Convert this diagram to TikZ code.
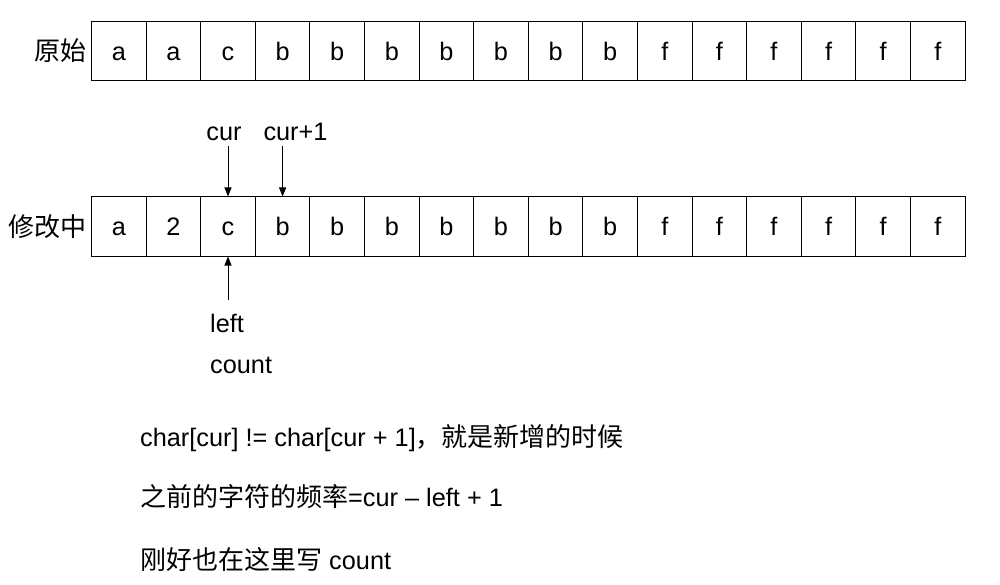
\documentclass[tikz,border=0pt]{standalone}
\usepackage{fontspec}
\setmainfont{Liberation Sans}
\newfontfamily\cjkfam{Noto Sans CJK SC}
\newcommand{\cjk}{\cjkfam\fontsize{26}{31}\selectfont}
\usetikzlibrary{arrows.meta,positioning}

\begin{document}
\begin{tikzpicture}[x=1pt,y=-1pt,
  lbl/.style={inner sep=0pt,font=\fontsize{25.3}{31}\selectfont},
  cell/.style={lbl,draw,line width=1pt,minimum width=54.6pt,minimum height=59pt,text height=19.5pt,text depth=1pt},
  ptr/.style={line width=0.8pt,-{Triangle[length=9pt,width=7pt]}}]
\useasboundingbox (0,0) rectangle (1000,585);
\foreach \c [count=\i] in {a,a,c,b,b,b,b,b,b,b,f,f,f,f,f,f}
  \node[cell] (o\i) at ({91.5+54.6*(\i-0.5)},51) {\c};
\foreach \c [count=\i] in {a,2,c,b,b,b,b,b,b,b,f,f,f,f,f,f}
  \node[cell] (m\i) at ({91.5+54.6*(\i-0.5)},226.5) {\c};
\node[lbl,anchor=east] (orig) at (87,51) {\cjk 原始};
\node[lbl,anchor=east] (mod) at (87,226.5) {\cjk 修改中};
\node[lbl,anchor=base] (cur) at (224,141) {cur};
\node[lbl,anchor=base] (curnext) at (295.5,141) {cur+1};
\node[lbl,anchor=base west] (lft) at (210,332) {left};
\node[lbl,anchor=base west] (cnt) at (210,373) {count};
\draw[ptr] (m3.north |- 0,146) -- (m3.north);
\draw[ptr] (m4.north |- 0,146) -- (m4.north);
\draw[ptr] (m3.south |- 0,300) -- (m3.south);
\node[lbl,anchor=base west] (note1) at (140,446) {char[cur] != char[cur + 1]{\cjk ，就是新增的时候}};
\node[lbl,anchor=base west] (note2) at (140,506) {{\cjk 之前的字符的频率}=cur – left + 1};
\node[lbl,anchor=base west] (note3) at (140,569) {{\cjk 刚好也在这里写} count};
\end{tikzpicture}
\end{document}
